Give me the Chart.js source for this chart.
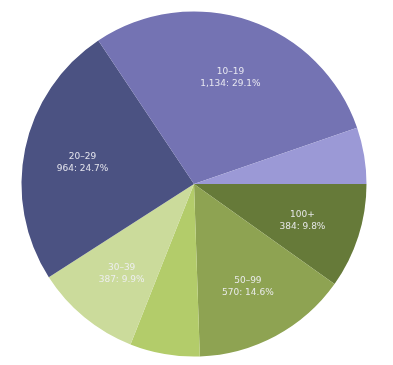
<!DOCTYPE html>
<html>
<head>
<meta charset="utf-8">
<script src="https://cdn.jsdelivr.net/npm/chart.js@4/dist/chart.umd.min.js"></script>
<style>
html,body{margin:0;padding:0;background:#fff;}
#wrap{width:393px;height:365px;position:relative;}
</style>
</head>
<body>
<div id="wrap"><canvas id="c" width="393" height="365"></canvas></div>
<script>
const categories = ["100+", "50–99", "40–49", "30–39", "20–29", "10–19", "1–9"];
const counts = [384, 570, 255, 387, 964, 1134, 206];
const colors = ["#667a39", "#8ea352", "#b3cc6a", "#cbdb9b", "#4b5282", "#7473b3", "#9b99d6"];
const labelThreshold = 0.08;

const total = counts.reduce((a, b) => a + b, 0);

const sliceLabels = {
  id: 'sliceLabels',
  afterDatasetsDraw(chart) {
    const ctx = chart.ctx;
    const meta = chart.getDatasetMeta(0);
    ctx.save();
    ctx.font = '9px "DejaVu Sans"';
    ctx.fillStyle = 'rgba(240,240,245,0.92)';
    ctx.textAlign = 'center';
    ctx.textBaseline = 'middle';
    meta.data.forEach((arc, i) => {
      const v = counts[i];
      const frac = v / total;
      if (frac < labelThreshold) return;
      const p = arc.getProps(['x', 'y', 'startAngle', 'endAngle', 'outerRadius'], true);
      const mid = (p.startAngle + p.endAngle) / 2;
      const r = p.outerRadius * 0.66;
      const x = p.x + Math.cos(mid) * r;
      const y = p.y + Math.sin(mid) * r + 2;
      ctx.fillText(categories[i], x, y - 6);
      ctx.fillText(v.toLocaleString('en-US') + ': ' + (frac * 100).toFixed(1) + '%', x, y + 6);
    });
    ctx.restore();
  }
};

new Chart(document.getElementById('c'), {
  type: 'pie',
  data: {
    labels: categories,
    datasets: [{
      data: counts,
      backgroundColor: colors,
      borderWidth: 0
    }]
  },
  options: {
    responsive: false,
    animation: false,
    rotation: 90,
    layout: { padding: { left: 21.5, right: 26.5, top: 11.5, bottom: 8.5 } },
    plugins: { legend: { display: false }, tooltip: { enabled: false } }
  },
  plugins: [sliceLabels]
});
</script>
</body>
</html>
